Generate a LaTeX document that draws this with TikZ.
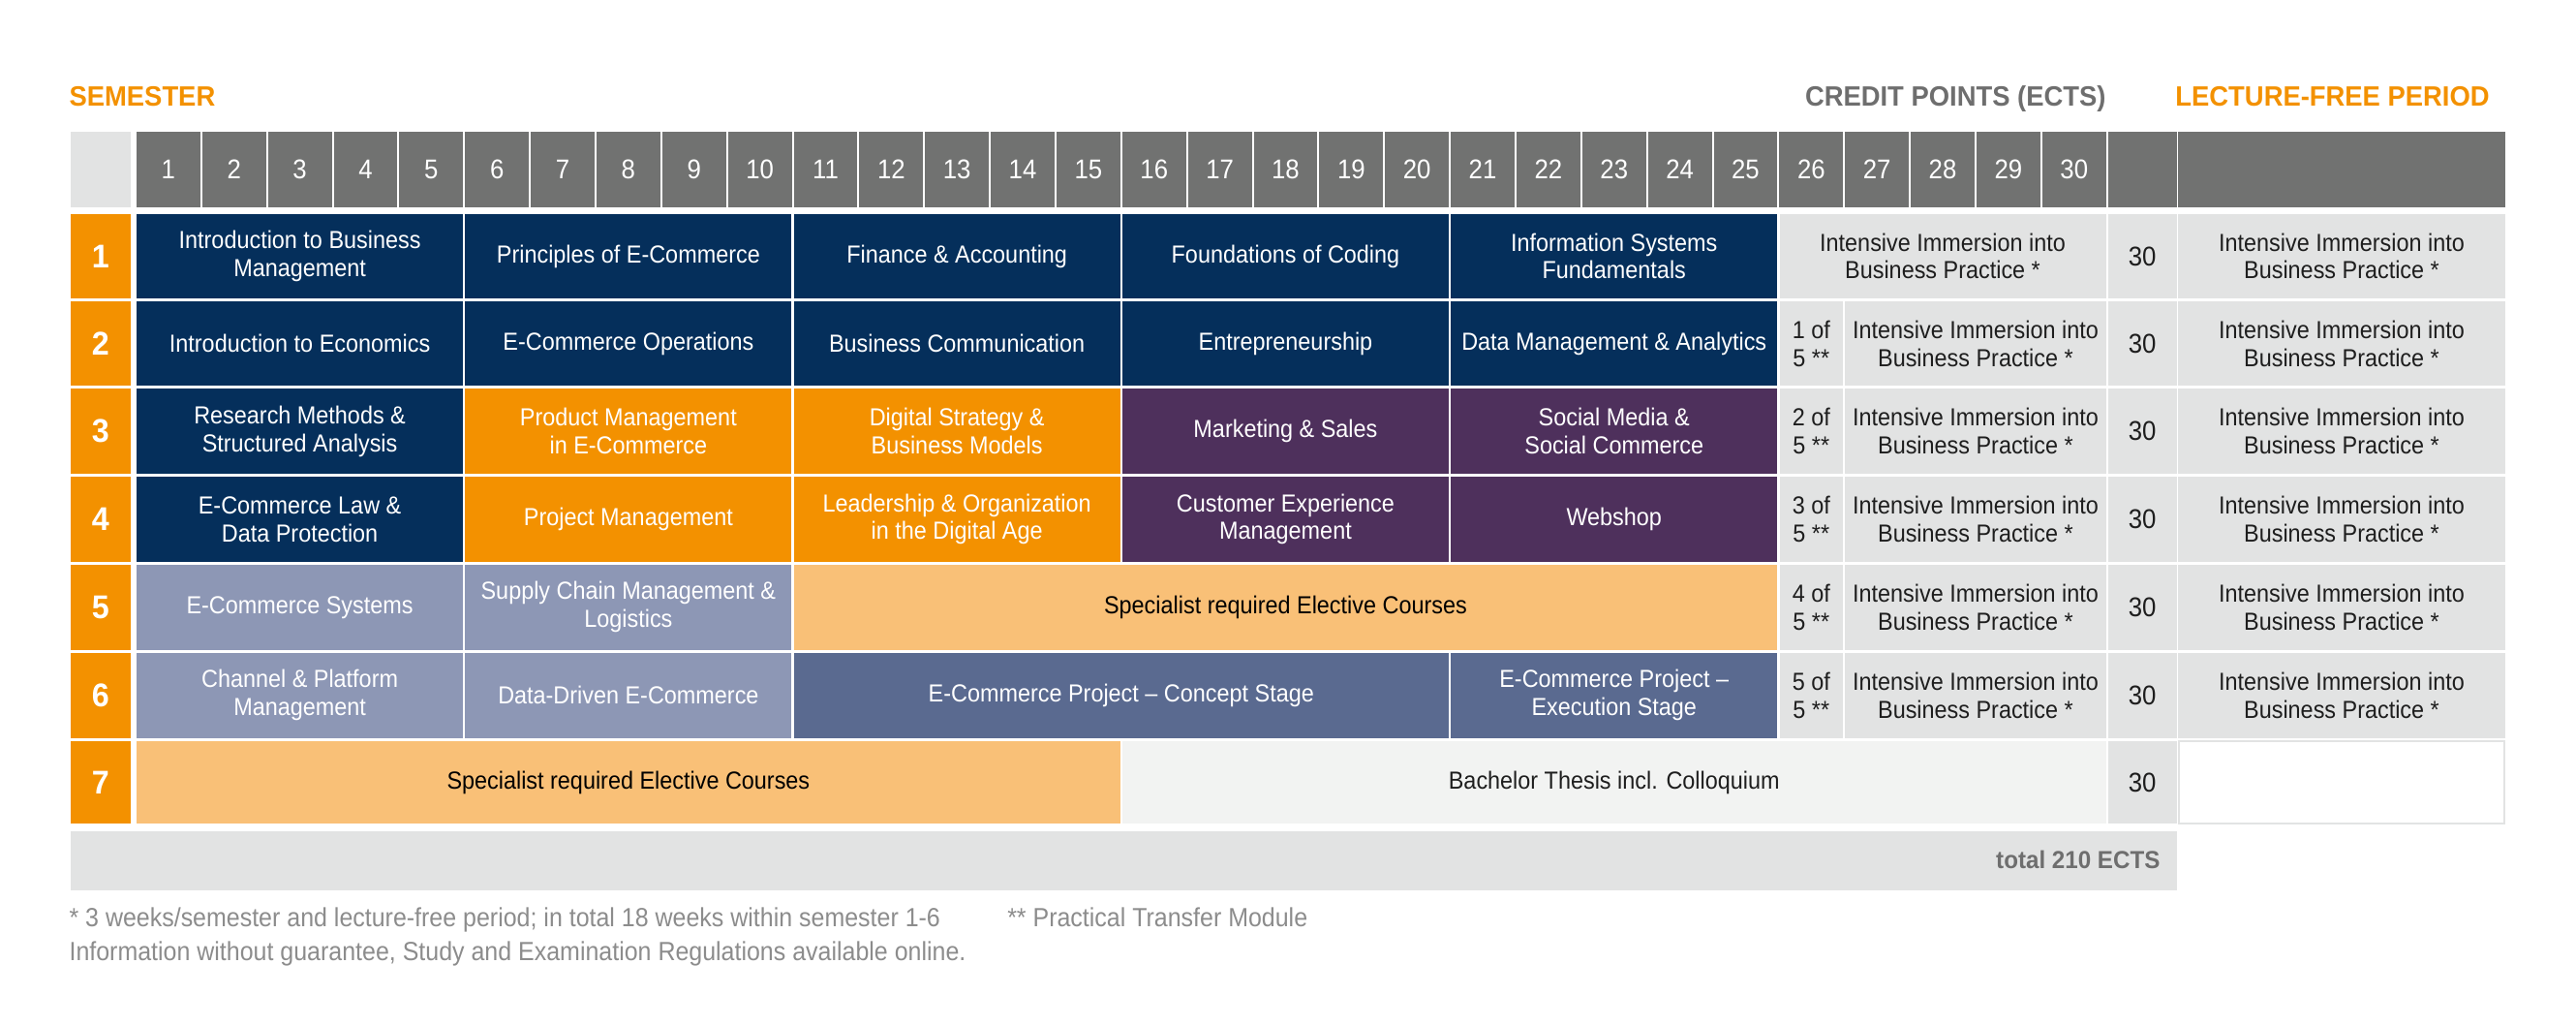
\documentclass[tikz,border=0pt]{standalone}
\usepackage{fontspec}
\setmainfont[FakeStretch=0.92]{Liberation Sans}
\newfontfamily\hfont[FakeStretch=0.95]{Liberation Sans}
\definecolor{cnavy}{HTML}{052F5B}
\definecolor{corange}{HTML}{F39100}
\definecolor{cpurple}{HTML}{4E305C}
\definecolor{clorange}{HTML}{F9C077}
\definecolor{cgrayblue}{HTML}{8D97B5}
\definecolor{csteel}{HTML}{5A6A90}
\definecolor{clgray}{HTML}{E2E3E3}
\definecolor{chdr}{HTML}{717271}
\definecolor{chead}{HTML}{6E6E6E}
\definecolor{cthesis}{HTML}{F2F3F2}
\definecolor{ctext}{HTML}{1E1E1E}
\definecolor{cfoot}{HTML}{8C8C8C}
\def\RT{{130.5,183.3,236.5,290,343.5,397.1,451}}
\def\RB{{181.3,234.7,288.3,341.9,395.5,449,501}}
\newcommand\gcell[7]{%
  \pgfmathsetmacro\gw{#3-#2}\pgfmathsetmacro\gh{#5-#4}%
  \node[#6,anchor=north west,minimum width=\gw pt,minimum height=\gh pt] (#1) at (#2,#4) {#7};}
\newcommand\rcell[6]{%
  \pgfmathsetmacro\ya{\RT[#4-1]}\pgfmathsetmacro\yb{\RB[#4-1]}%
  \gcell{#1}{#2}{#3}{\ya}{\yb}{#5}{#6}}
\newcommand\mcell[6]{%
  \pgfmathsetmacro\xa{82.5+40*(#2-1)+0.7}\pgfmathsetmacro\xb{82.5+40*(#3)-0.7}%
  \rcell{#1}{\xa}{\xb}{#4}{#5}{#6}}
\begin{document}
\begin{tikzpicture}[x=1pt,y=-1pt,
  base/.style={inner sep=0pt,outer sep=0pt,align=center,font=\fontsize{15}{17}\selectfont},
  navycell/.style={base,fill=cnavy,text=white},
  orcell/.style={base,fill=corange,text=white},
  purcell/.style={base,fill=cpurple,text=white},
  lorcell/.style={base,fill=clorange,text=black},
  gbcell/.style={base,fill=cgrayblue,text=white},
  stcell/.style={base,fill=csteel,text=white},
  gycell/.style={base,fill=clgray,text=ctext},
  thcell/.style={base,fill=cthesis,text=ctext},
  hdrcell/.style={base,fill=chdr,text=white,font=\fontsize{16.5}{18}\selectfont},
  numcell/.style={base,fill=corange,text=white,font=\hfont\bfseries\fontsize{20}{21}\selectfont},
  crcell/.style={base,fill=clgray,text=ctext,font=\fontsize{16.5}{18}\selectfont},
  headtxt/.style={inner sep=0pt,anchor=base west,font=\hfont\bfseries\fontsize{17}{19}\selectfont},
  foottxt/.style={inner sep=0pt,anchor=base west,text=cfoot,font=\fontsize{16}{18}\selectfont},
]
\useasboundingbox (0,0) rectangle (1568,623.7);
% headings
\node[headtxt,text=corange] (semester) at (42,64.7) {SEMESTER};
\node[headtxt,text=chead,anchor=base east] (credits) at (1282,64.7) {CREDIT POINTS (ECTS)};
\node[headtxt,text=corange] (lecture) at (1324,64.7) {LECTURE-FREE PERIOD};
% header row
\gcell{hcorner}{43}{79.5}{80}{126}{base,fill=clgray}{}
\foreach \k in {1,...,30}{
  \pgfmathsetmacro\hxa{82.5+40*(\k-1)+0.6}\pgfmathsetmacro\hxb{82.5+40*\k-0.6}
  \gcell{h\k}{\hxa}{\hxb}{80}{126}{hdrcell}{\k}
}
\gcell{hcredit}{1283.1}{1324.9}{80}{126}{hdrcell}{}
\gcell{hlecture}{1325.7}{1525}{80}{126}{hdrcell}{}
% semester numbers, credits, lecture-free period
\foreach \r in {1,...,7}{
  \rcell{n\r}{43}{79.5}{\r}{numcell}{\r}
  \rcell{cr\r}{1283.1}{1324.9}{\r}{crcell}{30}
}
\foreach \r in {1,...,6}{
  \rcell{lf\r}{1325.7}{1525}{\r}{gycell}{Intensive Immersion into\\Business Practice *}
}
\rcell{lf7}{1326.3}{1524.4}{7}{base,fill=white,draw=clgray,line width=1.2pt}{}
% row 1
\mcell{m11}{1}{5}{1}{navycell}{Introduction to Business\\Management}
\mcell{m12}{6}{10}{1}{navycell}{Principles of E-Commerce}
\mcell{m13}{11}{15}{1}{navycell}{Finance \& Accounting}
\mcell{m14}{16}{20}{1}{navycell}{Foundations of Coding}
\mcell{m15}{21}{25}{1}{navycell}{Information Systems\\Fundamentals}
\mcell{m16}{26}{30}{1}{gycell}{Intensive Immersion into\\Business Practice *}
% row 2
\mcell{m21}{1}{5}{2}{navycell}{Introduction to Economics}
\mcell{m22}{6}{10}{2}{navycell}{E-Commerce Operations}
\mcell{m23}{11}{15}{2}{navycell}{Business Communication}
\mcell{m24}{16}{20}{2}{navycell}{Entrepreneurship}
\mcell{m25}{21}{25}{2}{navycell}{Data Management \& Analytics}
% row 3
\mcell{m31}{1}{5}{3}{navycell}{Research Methods \&\\Structured Analysis}
\mcell{m32}{6}{10}{3}{orcell}{Product Management\\in E-Commerce}
\mcell{m33}{11}{15}{3}{orcell}{Digital Strategy \&\\Business Models}
\mcell{m34}{16}{20}{3}{purcell}{Marketing \& Sales}
\mcell{m35}{21}{25}{3}{purcell}{Social Media \&\\Social Commerce}
% row 4
\mcell{m41}{1}{5}{4}{navycell}{E-Commerce Law \&\\Data Protection}
\mcell{m42}{6}{10}{4}{orcell}{Project Management}
\mcell{m43}{11}{15}{4}{orcell}{Leadership \& Organization\\in the Digital Age}
\mcell{m44}{16}{20}{4}{purcell}{Customer Experience\\Management}
\mcell{m45}{21}{25}{4}{purcell}{Webshop}
% row 5
\mcell{m51}{1}{5}{5}{gbcell}{E-Commerce Systems}
\mcell{m52}{6}{10}{5}{gbcell}{Supply Chain Management \&\\Logistics}
\mcell{m53}{11}{25}{5}{lorcell}{Specialist required Elective Courses}
% row 6
\mcell{m61}{1}{5}{6}{gbcell}{Channel \& Platform\\Management}
\mcell{m62}{6}{10}{6}{gbcell}{Data-Driven E-Commerce}
\mcell{m63}{11}{20}{6}{stcell}{E-Commerce Project – Concept Stage}
\mcell{m64}{21}{25}{6}{stcell}{E-Commerce Project –\\Execution Stage}
% practical transfer + immersion rows 2-6
\foreach \r in {2,...,6}{
  \pgfmathtruncatemacro\pt{\r-1}
  \mcell{p\r}{26}{26}{\r}{gycell}{\pt{} of\\5 **}
  \mcell{i\r}{27}{30}{\r}{gycell}{Intensive Immersion into\\Business Practice *}
}
% row 7
\mcell{m71}{1}{15}{7}{lorcell}{Specialist required Elective Courses}
\mcell{m72}{16}{30}{7}{thcell}{Bachelor Thesis incl. Colloquium}
% total bar
\gcell{totalbar}{43}{1324.9}{506}{541.5}{base,fill=clgray}{}
\node[inner sep=0pt,anchor=base east,text=chead,font=\hfont\bfseries\fontsize{15}{17}\selectfont] (total) at (1315,528.5) {total 210 ECTS};
% footnotes
\node[foottxt] (fn1) at (42,564) {* 3 weeks/semester and lecture-free period; in total 18 weeks within semester 1-6};
\node[foottxt] (fn2) at (613,564) {** Practical Transfer Module};
\node[foottxt] (fn3) at (42,584.5) {Information without guarantee, Study and Examination Regulations available online.};
\end{tikzpicture}
\end{document}
